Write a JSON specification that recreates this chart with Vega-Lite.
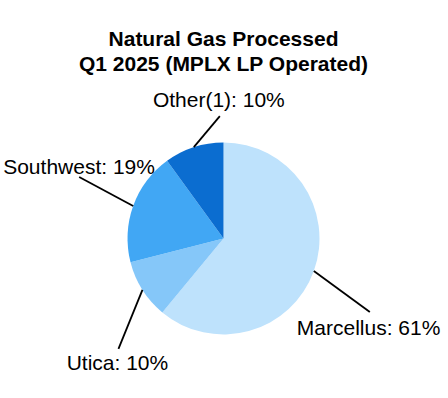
{
  "$schema": "https://vega.github.io/schema/vega-lite/v6.json",
  "width": 447,
  "height": 319,
  "padding": {"top": 29, "left": 0, "right": 0, "bottom": 0},
  "autosize": {"type": "pad"},
  "background": "white",
  "config": {"view": {"stroke": null}, "font": "Liberation Sans"},
  "title": {
    "text": ["Natural Gas Processed", "Q1 2025 (MPLX LP Operated)"],
    "font": "Liberation Sans",
    "fontSize": 21,
    "fontWeight": "bold",
    "color": "#000000",
    "lineHeight": 25,
    "offset": 4,
    "anchor": "middle"
  },
  "data": {
    "values": [
      {"category": "Marcellus", "value": 61},
      {"category": "Utica", "value": 10},
      {"category": "Southwest", "value": 19},
      {"category": "Other(1)", "value": 10}
    ]
  },
  "transform": [
    {"joinaggregate": [{"op": "sum", "field": "value", "as": "total"}]},
    {"window": [{"op": "sum", "field": "value", "as": "cum"}], "frame": [null, 0]},
    {"calculate": "(datum.cum - datum.value / 2) / datum.total * 2 * PI", "as": "mid"},
    {"calculate": "sin(datum.mid)", "as": "ex"},
    {"calculate": "cos(datum.mid)", "as": "ey"},
    {"calculate": "datum.category + ': ' + datum.value + '%'", "as": "label"}
  ],
  "layer": [
    {
      "mark": {"type": "arc", "outerRadius": 96},
      "encoding": {
        "theta": {"field": "value", "type": "quantitative", "stack": true},
        "order": {"field": "cum", "type": "quantitative"},
        "color": {
          "field": "category",
          "type": "nominal",
          "scale": {
            "domain": ["Marcellus", "Utica", "Southwest", "Other(1)"],
            "range": ["#bee2fc", "#85c7f9", "#41a7f4", "#0b6dd0"]
          },
          "legend": null
        }
      }
    },
    {
      "transform": [{"filter": "datum.category == 'Marcellus'"}],
      "mark": {"type": "rule", "color": "#000000", "strokeWidth": 1.8, "x2Offset": 56, "y2Offset": 41},
      "encoding": {
        "x": {"field": "ex", "type": "quantitative", "scale": {"domain": [-2.328125, 2.328125], "nice": false, "zero": false}, "axis": null},
        "y": {"field": "ey", "type": "quantitative", "scale": {"domain": [-1.6614583, 1.6614583], "nice": false, "zero": false}, "axis": null},
        "x2": {"field": "ex"},
        "y2": {"field": "ey"}
      }
    },
    {
      "transform": [{"filter": "datum.category == 'Utica'"}],
      "mark": {"type": "rule", "color": "#000000", "strokeWidth": 1.8, "x2Offset": -24, "y2Offset": 59},
      "encoding": {
        "x": {"field": "ex", "type": "quantitative", "scale": {"domain": [-2.328125, 2.328125], "nice": false, "zero": false}, "axis": null},
        "y": {"field": "ey", "type": "quantitative", "scale": {"domain": [-1.6614583, 1.6614583], "nice": false, "zero": false}, "axis": null},
        "x2": {"field": "ex"},
        "y2": {"field": "ey"}
      }
    },
    {
      "transform": [{"filter": "datum.category == 'Southwest'"}],
      "mark": {"type": "rule", "color": "#000000", "strokeWidth": 1.8, "x2Offset": -54, "y2Offset": -29},
      "encoding": {
        "x": {"field": "ex", "type": "quantitative", "scale": {"domain": [-2.328125, 2.328125], "nice": false, "zero": false}, "axis": null},
        "y": {"field": "ey", "type": "quantitative", "scale": {"domain": [-1.6614583, 1.6614583], "nice": false, "zero": false}, "axis": null},
        "x2": {"field": "ex"},
        "y2": {"field": "ey"}
      }
    },
    {
      "transform": [{"filter": "datum.category == 'Other(1)'"}],
      "mark": {"type": "rule", "color": "#000000", "strokeWidth": 1.8, "x2Offset": 26, "y2Offset": -31},
      "encoding": {
        "x": {"field": "ex", "type": "quantitative", "scale": {"domain": [-2.328125, 2.328125], "nice": false, "zero": false}, "axis": null},
        "y": {"field": "ey", "type": "quantitative", "scale": {"domain": [-1.6614583, 1.6614583], "nice": false, "zero": false}, "axis": null},
        "x2": {"field": "ex"},
        "y2": {"field": "ey"}
      }
    },
    {
      "transform": [{"filter": "datum.category == 'Marcellus'"}],
      "mark": {"type": "text", "font": "Liberation Sans", "fontSize": 21, "color": "#000000", "align": "left", "baseline": "alphabetic", "dx": -17, "dy": 64},
      "encoding": {
        "x": {"field": "ex", "type": "quantitative", "scale": {"domain": [-2.328125, 2.328125], "nice": false, "zero": false}, "axis": null},
        "y": {"field": "ey", "type": "quantitative", "scale": {"domain": [-1.6614583, 1.6614583], "nice": false, "zero": false}, "axis": null},
        "text": {"field": "label"}
      }
    },
    {
      "transform": [{"filter": "datum.category == 'Utica'"}],
      "mark": {"type": "text", "font": "Liberation Sans", "fontSize": 21, "color": "#000000", "align": "center", "baseline": "alphabetic", "dx": -25, "dy": 80},
      "encoding": {
        "x": {"field": "ex", "type": "quantitative", "scale": {"domain": [-2.328125, 2.328125], "nice": false, "zero": false}, "axis": null},
        "y": {"field": "ey", "type": "quantitative", "scale": {"domain": [-1.6614583, 1.6614583], "nice": false, "zero": false}, "axis": null},
        "text": {"field": "label"}
      }
    },
    {
      "transform": [{"filter": "datum.category == 'Southwest'"}],
      "mark": {"type": "text", "font": "Liberation Sans", "fontSize": 21, "color": "#000000", "align": "left", "baseline": "alphabetic", "dx": -130, "dy": -32},
      "encoding": {
        "x": {"field": "ex", "type": "quantitative", "scale": {"domain": [-2.328125, 2.328125], "nice": false, "zero": false}, "axis": null},
        "y": {"field": "ey", "type": "quantitative", "scale": {"domain": [-1.6614583, 1.6614583], "nice": false, "zero": false}, "axis": null},
        "text": {"field": "label"}
      }
    },
    {
      "transform": [{"filter": "datum.category == 'Other(1)'"}],
      "mark": {"type": "text", "font": "Liberation Sans", "fontSize": 21, "color": "#000000", "align": "center", "baseline": "alphabetic", "dx": 25, "dy": -40},
      "encoding": {
        "x": {"field": "ex", "type": "quantitative", "scale": {"domain": [-2.328125, 2.328125], "nice": false, "zero": false}, "axis": null},
        "y": {"field": "ey", "type": "quantitative", "scale": {"domain": [-1.6614583, 1.6614583], "nice": false, "zero": false}, "axis": null},
        "text": {"field": "label"}
      }
    }
  ]
}
